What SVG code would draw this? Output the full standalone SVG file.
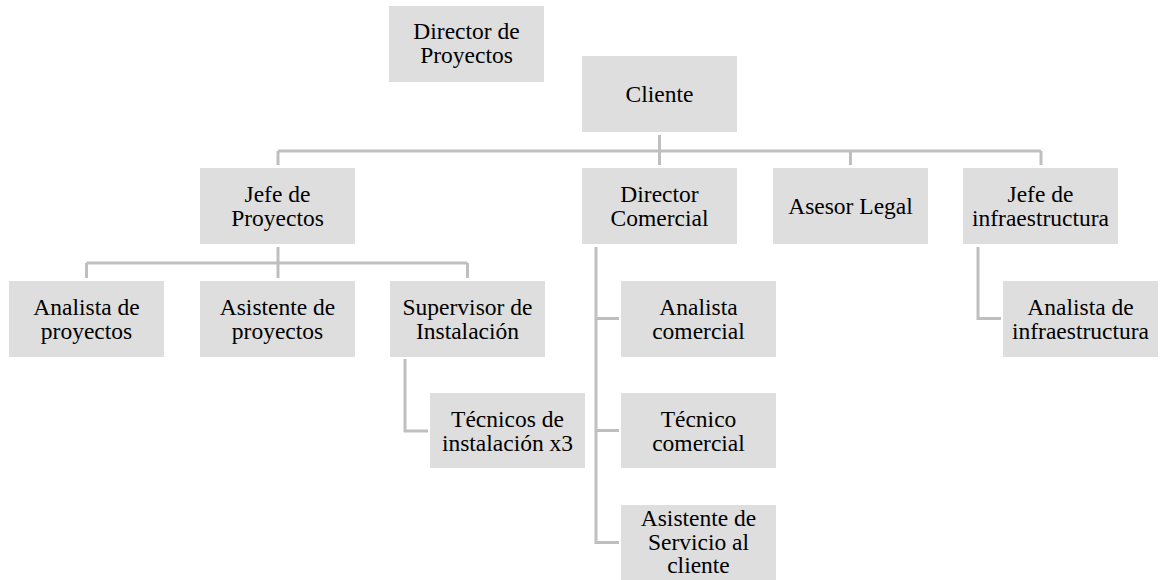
<svg xmlns="http://www.w3.org/2000/svg" width="1168" height="580" viewBox="0 0 1168 580">
<style>
.box{fill:#dedede;}
.t{font-family:"Liberation Serif","Times New Roman",serif;font-size:23.5px;fill:#000;text-anchor:middle;}
.c{fill:none;stroke:#bfbfbf;stroke-width:3;}
</style>
<rect width="1168" height="580" fill="#ffffff"/>
<g id="connectors">
<path class="c" d="M659.5,135 V151 M278,151 H1041 M278,151 V165 M659.5,151 V165 M850.5,151 V165 M1041,151 V165"/>
<path class="c" d="M278,247 V263 M86.5,263 H467.5 M86.5,263 V278 M278,263 V278 M467.5,263 V278"/>
<path class="c" d="M405,359 V431 H428"/>
<path class="c" d="M596,247 V542.5 H619 M596,318.5 H619 M596,430.5 H619"/>
<path class="c" d="M978,247 V318.5 H1001"/>
</g>
<g id="director-proyectos"><rect class="box" x="389" y="6" width="155" height="76"/><text class="t" x="466.5" y="39"><tspan x="466.5">Director de</tspan><tspan x="466.5" dy="23.5">Proyectos</tspan></text></g>
<g id="cliente"><rect class="box" x="582" y="56" width="155" height="76"/><text class="t" x="659.5" y="102">Cliente</text></g>
<g id="jefe-proyectos"><rect class="box" x="200" y="168" width="155" height="76"/><text class="t" x="277.5" y="202"><tspan x="277.5">Jefe de</tspan><tspan x="277.5" dy="23.5">Proyectos</tspan></text></g>
<g id="director-comercial"><rect class="box" x="582" y="168" width="155" height="76"/><text class="t" x="659.5" y="202"><tspan x="659.5">Director</tspan><tspan x="659.5" dy="23.5">Comercial</tspan></text></g>
<g id="asesor-legal"><rect class="box" x="773" y="168" width="155" height="76"/><text class="t" x="850.5" y="214">Asesor Legal</text></g>
<g id="jefe-infraestructura"><rect class="box" x="963" y="168" width="155" height="76"/><text class="t" x="1040.5" y="202"><tspan x="1040.5">Jefe de</tspan><tspan x="1040.5" dy="23.5">infraestructura</tspan></text></g>
<g id="analista-proyectos"><rect class="box" x="9" y="281" width="155" height="76"/><text class="t" x="86.5" y="315"><tspan x="86.5">Analista de</tspan><tspan x="86.5" dy="23.5">proyectos</tspan></text></g>
<g id="asistente-proyectos"><rect class="box" x="200" y="281" width="155" height="76"/><text class="t" x="277.5" y="315"><tspan x="277.5">Asistente de</tspan><tspan x="277.5" dy="23.5">proyectos</tspan></text></g>
<g id="supervisor-instalacion"><rect class="box" x="390" y="281" width="155" height="76"/><text class="t" x="467.5" y="315"><tspan x="467.5">Supervisor de</tspan><tspan x="467.5" dy="23.5">Instalación</tspan></text></g>
<g id="tecnicos-instalacion"><rect class="box" x="430" y="393" width="155" height="75"/><text class="t" x="507.5" y="427"><tspan x="507.5">Técnicos de</tspan><tspan x="507.5" dy="23.5">instalación x3</tspan></text></g>
<g id="analista-comercial"><rect class="box" x="621" y="281" width="155" height="76"/><text class="t" x="698.5" y="315"><tspan x="698.5">Analista</tspan><tspan x="698.5" dy="23.5">comercial</tspan></text></g>
<g id="tecnico-comercial"><rect class="box" x="621" y="393" width="155" height="75"/><text class="t" x="698.5" y="427"><tspan x="698.5">Técnico</tspan><tspan x="698.5" dy="23.5">comercial</tspan></text></g>
<g id="asistente-servicio"><rect class="box" x="621" y="505" width="155" height="80"/><text class="t" x="698.5" y="526"><tspan x="698.5">Asistente de</tspan><tspan x="698.5" dy="23.5">Servicio al</tspan><tspan x="698.5" dy="23.5">cliente</tspan></text></g>
<g id="analista-infraestructura"><rect class="box" x="1003" y="281" width="155" height="76"/><text class="t" x="1080.5" y="315"><tspan x="1080.5">Analista de</tspan><tspan x="1080.5" dy="23.5">infraestructura</tspan></text></g>
</svg>
